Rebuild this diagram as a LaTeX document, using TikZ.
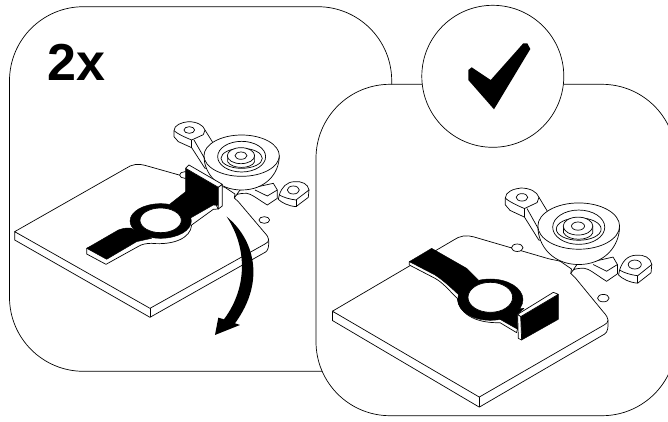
\documentclass[tikz,border=0pt]{standalone}
\usepackage{fontspec}
\setmainfont{Liberation Sans}
\usepackage{tikz}
\tikzset{
  panel/.style={draw=black, fill=white, line width=0.7pt, rounded corners=74pt},
  part/.style={draw=black, fill=white, line width=0.7pt, line join=round},
  edge/.style={draw=black, line width=0.7pt, line join=round},
  solid part/.style={fill=black, draw=black, line width=0.4pt, line join=round}
}
% plate with rotor, coordinates in 3x pixels
\newcommand{\motorbase}{
  % Upper lug and arm
  \path[part] (522,92) -- (522,110) -- (535,125) -- (575,143) -- (615,205) -- (640,200) -- (640,130) -- (615,90) .. controls (610,75) and (590,65) .. (565,65) .. controls (545,67) and (522,75) .. (522,92);
  \path[edge] (522,92) .. controls (530,100) and (555,112) .. (575,120) -- (610,104) -- (615,90);
  \path[edge] (575,120) -- (575,143);
  \path[edge] (582,120) -- (612,172);
  \path[part] (568,90) ellipse [x radius=16, y radius=10];
  % Side of plate
  \path[part] (44,395) -- (44,420) -- (450,652) -- (797,456) .. controls (805,450) and (807,440) .. (806,420) -- (450,600) -- cycle;
  \path[edge] (450,625) -- (450,652);
  % Top of plate
  \path[part] (44,395) -- (378,205) .. controls (395,193) and (415,190) .. (435,196) -- (640,254) .. controls (655,258) and (665,258) .. (675,262) -- (705,282) -- (703,294) -- (715,305) -- (793,397) .. controls (810,415) and (810,425) .. (795,432) -- (450,625) -- cycle;
  \path[part] (793,360) ellipse [x radius=16, y radius=10];
  \path[part] (555,225) ellipse [x radius=16, y radius=10];
  % Lower lug
  \path[part] (703,294) .. controls (708,282) and (715,280) .. (740,280) .. controls (755,282) and (765,292) .. (802,315) -- (832,295) -- (832,270) -- (820,250) -- (765,262) -- (720,270) -- cycle;
  \path[edge] (765,270) -- (802,288) -- (832,270);
  \path[part] (838,285) -- (835,298) .. controls (845,308) and (865,318) .. (888,320) -- (925,292) -- (927,270) -- (880,260) -- cycle;
  \path[part] (838,285) .. controls (845,262) and (860,245) .. (885,245) .. controls (905,243) and (925,252) .. (927,270) -- (888,300) .. controls (870,298) and (850,292) .. (838,285) -- cycle;
  \path[edge] (888,300) -- (888,320);
  \path[part] (880,270) ellipse [x radius=18, y radius=12];
  % Rotor
  \path[part] (612,167) .. controls (612,222) and (655,270) .. (725,270) .. controls (795,270) and (838,222) .. (838,167) -- cycle;
  \path[part] (725,167) ellipse [x radius=113, y radius=62];
  \path[part] (725,170) ellipse [x radius=72, y radius=46];
  \path[part] (725,175) ellipse [x radius=62, y radius=30];
  \path[part] (683,167) -- (683,185) .. controls (695,208) and (755,208) .. (764,185) -- (764,167) -- cycle;
  \path[part] (723,167) ellipse [x radius=41, y radius=24];
  \path[part] (723,167) ellipse [x radius=18, y radius=11];
}
\begin{document}
\begin{tikzpicture}[x=1pt, y=-1pt]
  \useasboundingbox (0,0) rectangle (668,421);

  % Left panel
  \path[panel] (9.5,6.7) rectangle (391.7,371.3);
  \node[font=\bfseries\fontsize{52}{52}\selectfont, anchor=base west, inner sep=0pt] (count) at (47,80) {2x};

  \begin{scope}[shift={(0,100)}, scale=0.3333]
    \motorbase
    % Strip, raised end behind the rotor
    \path[part] (260,445) -- (260,462) -- (318,493) -- (410,442) .. controls (425,432) and (440,430) .. (455,430) .. controls (520,436) and (572,415) .. (575,375) -- (640,328) -- (655,327) -- (640,300) -- cycle;
    \path[solid part] (260,445) -- (355,390) .. controls (365,385) and (375,384) .. (392,384) -- (455,415) -- (410,425) -- (320,478) -- cycle;
    \path[solid part] (482,363) ellipse [x radius=92, y radius=52];
    \path[solid part] (510,312) -- (557,275) -- (557,205) -- (655,262) -- (655,316) -- (640,315) -- (570,355) -- cycle;
    \path[part] (482,361) ellipse [x radius=62, y radius=37];
    \path[part] (557,205) -- (567,195) -- (667,253) -- (655,262) -- cycle;
    \path[part] (655,262) -- (667,253) -- (667,318) -- (655,327) -- cycle;
    % Fold arrow
    \fill (645,705) -- (655,653) -- (672,658) .. controls (745,560) and (740,440) .. (680,350) .. controls (760,415) and (800,540) .. (705,670) -- (720,675) -- cycle;
  \end{scope}

  % Right panel
  \path[panel] (316,84.3) rectangle (676,415.7);

  \begin{scope}[shift={(479.3,396.7)}, xscale=1.085, yscale=1.12, shift={(-150,-308)}, shift={(0,100)}, scale=0.3333]
    \motorbase
  \end{scope}

  \begin{scope}[shift={(320,170)}, scale=0.3333]
    \path[part] (268,275) -- (268,285) -- (345,325) .. controls (370,338) and (395,370) .. (412,385) .. controls (420,440) and (480,460) .. (540,458) -- (590,488) -- (600,440) -- (400,300) -- cycle;
    \path[solid part] (268,275) -- (335,235) -- (440,295) -- (475,330) -- (420,378) .. controls (395,355) and (375,335) .. (345,315) -- cycle;
    \path[solid part] (511,389) ellipse [x radius=98, y radius=62];
    \path[solid part] (540,448) -- (593,478) -- (593,433) -- (612,415) -- (560,420) -- cycle;
    \path[part] (511,382) ellipse [x radius=67, y radius=45];
    \path[solid part] (602,440) -- (715,373) -- (715,448) -- (605,510) -- cycle;
    \path[part] (593,433) -- (700,367) -- (715,373) -- (602,440) -- cycle;
    \path[part] (593,433) -- (602,440) -- (605,510) -- (595,505) -- cycle;
  \end{scope}

  % Badge with check mark
  \node[circle, draw=black, fill=white, line width=0.7pt, minimum size=142pt, inner sep=0pt] (badge) at (492.8,76.3) {};
  \fill (468.3,70) -- (471.7,67.3) -- (490.7,80) -- (523.3,43.3) -- (527.3,43.3) -- (530.3,49) -- (494,109.3) -- (468.3,80) -- cycle;
\end{tikzpicture}
\end{document}
